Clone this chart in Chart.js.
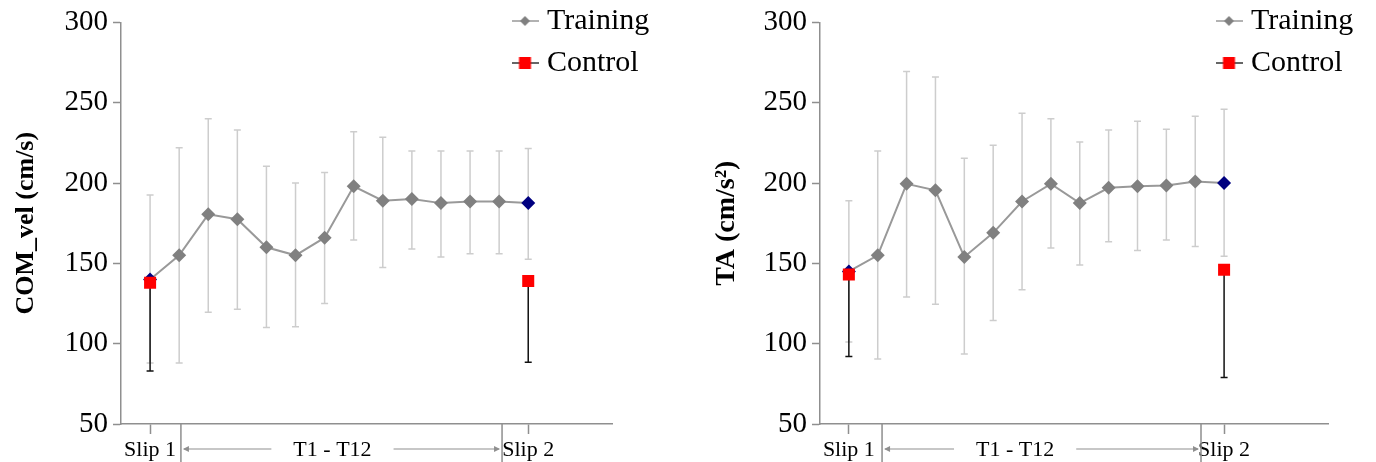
<!DOCTYPE html>
<html>
<head>
<meta charset="utf-8">
<script src="https://cdn.jsdelivr.net/npm/chart.js@4"></script>
<style>
  html, body { margin: 0; padding: 0; background: #fff; }
  body { width: 1376px; height: 462px; position: relative; overflow: hidden; }
  .panel { position: absolute; top: 0; height: 462px; }
</style>
</head>
<body>
<div class="panel" style="left:0;width:699px"><canvas id="comChart"></canvas></div>
<div class="panel" style="left:699px;width:677px"><canvas id="taChart"></canvas></div>
<script>
// trials on the x axis, Slip 1 .. Slip 2
const categories = ['Slip 1', 'T1', 'T2', 'T3', 'T4', 'T5', 'T6', 'T7', 'T8', 'T9', 'T10', 'T11', 'T12', 'Slip 2'];
const controlCategories = ['Slip 1', 'Slip 2'];
const xTickLabels = ['Slip 1', 'T1 - T12', 'Slip 2'];
const seriesNames = ['Training', 'Control'];

// COM_vel (cm/s)
const comTrainMean = [140, 155, 180.5, 177.5, 160, 155, 166, 198, 189, 190, 187.5, 188.5, 188.5, 187.5];
const comTrainHigh = [192.5, 222, 240, 233, 210.5, 200, 206.5, 232, 228.5, 220, 220, 220, 220, 221.5];
const comTrainLow = [88, 88, 119.5, 121.5, 110, 110.5, 125, 164.5, 147.5, 159, 154, 156, 156, 152.5];
const comCtrlMean = [138, 139];
const comCtrlLow = [83, 88.5];

// TA (cm/s2)
const taTrainMean = [145, 155, 199.5, 195.5, 154, 169, 188.5, 199.5, 187.5, 197, 198, 198.5, 201, 200];
const taTrainHigh = [189, 220, 269.5, 266, 215.5, 223.5, 243.5, 240, 225.5, 233, 238.5, 233.5, 241.5, 246];
const taTrainLow = [101, 90.5, 129, 124.5, 93.5, 114.5, 133.5, 159.5, 149, 163.5, 158, 164.5, 160.5, 154.5];
const taCtrlMean = [143, 146];
const taCtrlLow = [92, 79];

const SERIF = '"Liberation Serif", "Times New Roman", serif';
const AXIS_GRAY = '#8f8f8f';
const TRAIN_GRAY = '#808080';
const NAVY = '#000080';

const xOf = (name) => categories.indexOf(name) + 1;

function legendIcon(kind) {
  const c = document.createElement('canvas');
  c.width = 27; c.height = 14;
  const g = c.getContext('2d');
  g.strokeStyle = kind === 'diamond' ? '#999' : '#333';
  g.lineWidth = 1.5;
  g.beginPath(); g.moveTo(0, 7); g.lineTo(27, 7); g.stroke();
  if (kind === 'diamond') {
    g.fillStyle = TRAIN_GRAY;
    g.beginPath(); g.moveTo(13.5, 2); g.lineTo(18.5, 7); g.lineTo(13.5, 12); g.lineTo(8.5, 7); g.closePath(); g.fill();
  } else {
    g.fillStyle = '#ff0000';
    g.fillRect(7.5, 1, 12, 12);
  }
  return c;
}
const icons = [legendIcon('diamond'), legendIcon('square')];

// vertical error bars under the points
const errorBars = {
  id: 'errorBars',
  beforeDatasetsDraw(chart) {
    const {ctx, scales: {x, y}} = chart;
    ctx.save();
    chart.data.datasets.forEach((ds) => {
      if (!ds.errLow) return;
      ctx.strokeStyle = ds.errColor;
      ctx.lineWidth = 1.5;
      ds.data.forEach((p, j) => {
        const px = x.getPixelForValue(p.x);
        const top = y.getPixelForValue(ds.errHigh ? ds.errHigh[j] : p.y);
        const bot = y.getPixelForValue(ds.errLow[j]);
        ctx.beginPath();
        ctx.moveTo(px, top); ctx.lineTo(px, bot);
        if (ds.errHigh) { ctx.moveTo(px - 3.5, top); ctx.lineTo(px + 3.5, top); }
        ctx.moveTo(px - 3.5, bot); ctx.lineTo(px + 3.5, bot);
        ctx.stroke();
      });
    });
    ctx.restore();
  }
};

// separators and arrows for the T1 - T12 span
const phaseAxis = {
  id: 'phaseAxis',
  afterDraw(chart, args, opts) {
    const {ctx} = chart;
    const x = chart.scales.x;
    const yMid = x.top + opts.labelY;
    const s1 = x.getPixelForValue(opts.sep[0]);
    const s2 = x.getPixelForValue(opts.sep[1]);
    ctx.save();
    ctx.strokeStyle = AXIS_GRAY;
    ctx.fillStyle = AXIS_GRAY;
    ctx.lineWidth = 1.5;
    ctx.beginPath();
    ctx.moveTo(s1, x.top); ctx.lineTo(s1, chart.height);
    ctx.moveTo(s2, x.top); ctx.lineTo(s2, chart.height);
    ctx.stroke();
    ctx.font = '22px ' + SERIF;
    const cx = x.getPixelForValue(opts.mid);
    const half = ctx.measureText(xTickLabels[1]).width / 2 + 22;
    ctx.lineWidth = 1;
    ctx.beginPath();
    ctx.moveTo(s1 + 3, yMid); ctx.lineTo(cx - half, yMid);
    ctx.moveTo(cx + half, yMid); ctx.lineTo(s2 - 3, yMid);
    ctx.stroke();
    ctx.beginPath();
    ctx.moveTo(s1 + 2, yMid); ctx.lineTo(s1 + 8, yMid - 3); ctx.lineTo(s1 + 8, yMid + 3); ctx.closePath();
    ctx.moveTo(s2 - 2, yMid); ctx.lineTo(s2 - 8, yMid - 3); ctx.lineTo(s2 - 8, yMid + 3); ctx.closePath();
    ctx.fill();
    ctx.restore();
  }
};

// move the legend to the top right corner of the plot
const legendPlace = {
  id: 'legendPlace',
  afterLayout(chart, args, opts) {
    const lg = chart.legend;
    if (!lg) return;
    lg.left = opts.left;
    lg.right = opts.left + 200;
    lg.top = opts.top;
    lg.bottom = chart.chartArea.bottom;
  }
};

function makeChart(id, cfg) {
  const ticksAt = [1, cfg.mid, 14];
  return new Chart(document.getElementById(id), {
    type: 'line',
    data: {
      datasets: [
        {
          label: seriesNames[0],
          order: 1,
          data: categories.map((c, i) => ({x: xOf(c), y: cfg.trainMean[i]})),
          errHigh: cfg.trainHigh,
          errLow: cfg.trainLow,
          errColor: '#cdcdcd',
          borderColor: '#999999',
          borderWidth: 2,
          pointStyle: 'rectRot',
          pointRadius: 7,
          pointBorderWidth: 0,
          pointBackgroundColor: categories.map(c => c.startsWith('Slip') ? NAVY : TRAIN_GRAY),
          tension: 0
        },
        {
          label: seriesNames[1],
          order: 0,
          showLine: false,
          data: controlCategories.map((c, i) => ({x: xOf(c), y: cfg.ctrlMean[i]})),
          errLow: cfg.ctrlLow,
          errColor: '#111111',
          pointStyle: 'rect',
          pointRadius: 8.5,
          pointBorderWidth: 0,
          pointBackgroundColor: '#ff0000'
        }
      ]
    },
    options: {
      responsive: true,
      maintainAspectRatio: false,
      animation: false,
      layout: {padding: {top: 22, right: cfg.padRight, bottom: 0, left: 0}},
      plugins: {
        tooltip: {enabled: false},
        legend: {
          position: 'chartArea',
          align: 'start',
          labels: {
            usePointStyle: true,
            boxWidth: 14,
            padding: 12,
            color: '#000',
            font: {family: SERIF, size: 30},
            generateLabels: () => seriesNames.map((name, i) => ({
              text: name, datasetIndex: i, pointStyle: icons[i],
              fillStyle: '#000', strokeStyle: '#000', lineWidth: 0, hidden: false
            }))
          }
        },
        legendPlace: {left: cfg.legendLeft, top: -6},
        phaseAxis: {sep: cfg.sep, mid: cfg.mid, labelY: 25}
      },
      scales: {
        x: {
          type: 'linear',
          min: 0,
          max: cfg.xMax,
          afterBuildTicks: (scale) => { scale.ticks = ticksAt.map(v => ({value: v})); },
          afterFit: (scale) => { scale.height = 38; },
          border: {color: AXIS_GRAY, width: 1.5},
          grid: {
            drawOnChartArea: false,
            tickLength: 10,
            tickWidth: 1.5,
            tickColor: (ctx) => ctx.index === 1 ? 'rgba(0,0,0,0)' : AXIS_GRAY
          },
          ticks: {
            autoSkip: false,
            maxRotation: 0,
            padding: 3,
            color: '#000',
            font: {family: SERIF, size: 22},
            callback: (v, i) => xTickLabels[i]
          }
        },
        y: {
          min: 50,
          max: 300,
          afterFit: (scale) => { scale.width = 121; },
          border: {color: AXIS_GRAY, width: 1.5},
          grid: {drawOnChartArea: false, tickLength: 8, tickWidth: 1.5, color: AXIS_GRAY},
          ticks: {
            stepSize: 50,
            padding: 5,
            color: '#000',
            font: {family: SERIF, size: 29}
          },
          title: {
            display: true,
            text: cfg.yTitle,
            color: '#000',
            padding: {top: 11, bottom: 0},
            font: {family: SERIF, size: cfg.titleSize, weight: 'bold'}
          }
        }
      }
    },
    plugins: [errorBars, phaseAxis, legendPlace]
  });
}

makeChart('comChart', {
  trainMean: comTrainMean, trainHigh: comTrainHigh, trainLow: comTrainLow,
  ctrlMean: comCtrlMean, ctrlLow: comCtrlLow,
  yTitle: 'COM_vel (cm/s)', titleSize: 26, xMax: 16.88, padRight: 87,
  sep: [2.06, 13.1], mid: 7.27, legendLeft: 506
});

makeChart('taChart', {
  trainMean: taTrainMean, trainHigh: taTrainHigh, trainLow: taTrainLow,
  ctrlMean: taCtrlMean, ctrlLow: taCtrlLow,
  yTitle: 'TA (cm/s\u00b2)', titleSize: 28, xMax: 17.6, padRight: 48,
  sep: [2.15, 13.2], mid: 6.76, legendLeft: 511
});
</script>
</body>
</html>
